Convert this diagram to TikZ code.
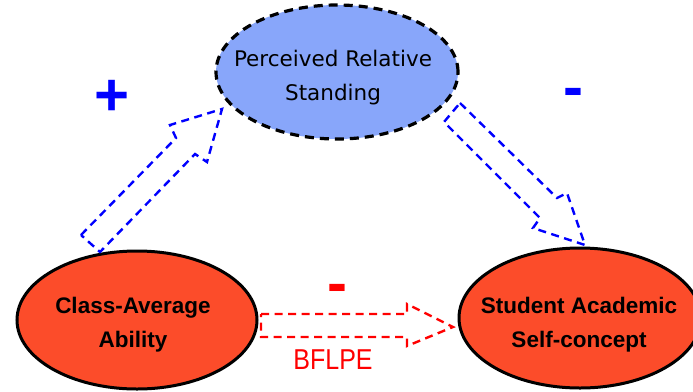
\documentclass[tikz,border=0pt]{standalone}
\usepackage{fontspec}
\setmainfont{Liberation Sans}
\newfontfamily\lucida{DejaVu Sans}
\definecolor{standblue}{RGB}{136,166,250}
\definecolor{abilred}{RGB}{252,76,42}

\begin{document}
\begin{tikzpicture}[x=1pt,y=-1pt,
   factor/.style={draw=black,line width=3pt,fill=abilred},
   mediator/.style={draw=black,line width=3.2pt,dash pattern=on 9pt off 6pt,fill=standblue},
   blockarrow/.style={line width=2.4pt,dash pattern=on 8pt off 5.5pt,line join=miter},
   lbl/.style={font=\bfseries\fontsize{22.5}{34}\selectfont,align=center,anchor=base},
   sign/.style={font=\bfseries\fontsize{60}{60}\selectfont}]

   \useasboundingbox (0,0) rectangle (693,391);

   % the three constructs
   \draw[mediator] (337,72) ellipse [x radius=121pt,y radius=67pt];
   \draw[factor] (137,320) ellipse [x radius=120pt,y radius=69pt];
   \draw[factor] (580,318) ellipse [x radius=121pt,y radius=70pt];

   \node[lbl,font=\lucida\fontsize{21.5}{34}\selectfont] (prs) at (333,100) {Perceived Relative\\Standing};
   \node[lbl] (cls) at (133,347) {Class-Average\\Ability};
   \node[lbl] (sac) at (579,347) {Student Academic\\Self-concept};

   % hollow dashed arrows
   \draw[blockarrow,blue] (81,235) -- (176,138) -- (170,125) -- (222,109)
      -- (207,162) -- (195,154) -- (100,252) -- cycle;
   \draw[blockarrow,blue] (460,103) -- (557,198) -- (567,193) -- (585,245)
      -- (533,228) -- (540,218) -- (444,122) -- cycle;
   \draw[blockarrow,red] (261,314) -- (407,314) -- (407,304) -- (453,327)
      -- (407,346) -- (407,337) -- (261,337) -- cycle;

   % signs
   \node[sign,blue] (plus) at (112,98) {+};
   \node[sign,blue] (minus1) at (573,98) {-};
   \node[sign,red] (minus2) at (337,294) {-};
   \node[red,font=\fontsize{25}{25}\selectfont,anchor=base] (bflpe) at (333,369) {\scalebox{1}[1.15]{BFLPE}};

\end{tikzpicture}
\end{document}
